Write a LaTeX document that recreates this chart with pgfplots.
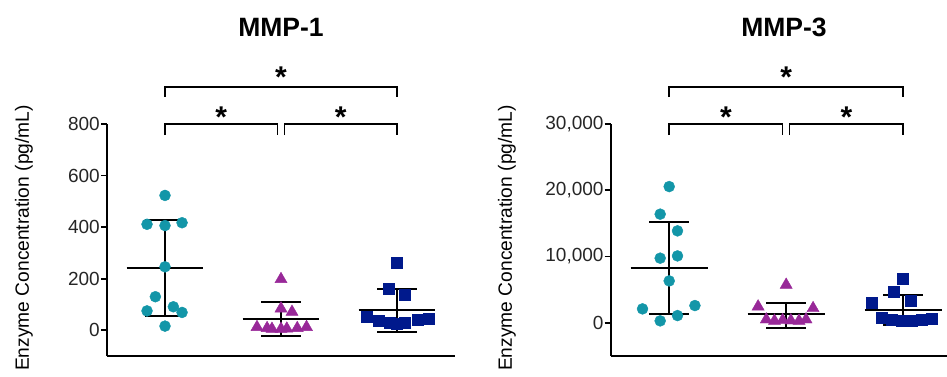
\documentclass[border=0pt]{standalone}
\usepackage{fontspec}
\setmainfont{Liberation Sans}
\usepackage{pgfplots}
\pgfplotsset{compat=1.18}
\definecolor{cteal}{RGB}{19,150,168}
\definecolor{cpurp}{RGB}{152,40,152}
\definecolor{cnavy}{RGB}{0,25,140}
\tikzset{
 brk/.style={line width=1.6pt, black},
 star/.style={anchor=north, inner sep=0pt, font=\bfseries\fontsize{30}{32}\selectfont},
}
\pgfplotsset{
 enzstyle/.style={
  scale only axis, height=232pt,
  axis x line=bottom, axis y line=left,
  axis line style={-, line width=1.8pt, black},
  xtick=\empty,
  ytick style={line width=1.8pt, black},
  tick align=outside, major tick length=6pt,
  /pgf/number format/assume math mode=true,
  /pgf/number format/1000 sep={,},
  scaled y ticks=false,
  yticklabel style={font=\fontsize{19}{22}\selectfont, inner sep=1pt, text=black!85},
  clip=false,
  anchor=south west,
 },
 mline/.style={black, line width=2pt, no marks, forget plot},
 ptA/.style={only marks, mark=*, mark size=5.5pt, color=cteal, mark options={draw=cteal, fill=cteal}},
 ptB/.style={only marks, mark=triangle*, mark size=7pt, color=cpurp, mark options={draw=cpurp, fill=cpurp}},
 ptC/.style={only marks, mark=square*, mark size=5.5pt, color=cnavy, mark options={draw=cnavy, fill=cnavy}},
}
\begin{document}
\begin{tikzpicture}
\useasboundingbox (0,0) rectangle (947pt,376pt);
% ---------------- MMP-1 ----------------
\begin{axis}[enzstyle, at={(107pt,20pt)}, width=348pt,
  xmin=0.5, xmax=3.5, ymin=-100, ymax=800, ytick={0,200,400,600,800}]
\addplot[ptA] coordinates {(1.0,523) (0.845,411) (1.0,406) (1.147,417) (1.0,246) (0.917,130) (0.845,75) (1.072,91) (1.147,69) (1.0,16)};
\addplot[ptB] coordinates {(2.0,198) (2.0,84) (2.095,71) (1.793,12) (1.88,8) (1.922,5) (2.0,5) (2.05,6) (2.14,8) (2.22,12)};
\addplot[ptC] coordinates {(3.0,263) (2.93,162) (3.07,139) (2.74,54) (2.84,36) (2.94,28) (3.0,25) (3.07,28) (3.18,39) (3.27,45)};
% mean and SD
\addplot[mline] coordinates {(0.67,240) (1.33,240)};
\addplot[mline] coordinates {(1,54) (1,428)};
\addplot[mline] coordinates {(0.83,428) (1.17,428)};
\addplot[mline] coordinates {(0.83,54) (1.17,54)};
\addplot[mline] coordinates {(1.67,43) (2.33,43)};
\addplot[mline] coordinates {(2,-21) (2,108)};
\addplot[mline] coordinates {(1.83,108) (2.17,108)};
\addplot[mline] coordinates {(1.83,-21) (2.17,-21)};
\addplot[mline] coordinates {(2.67,78) (3.33,78)};
\addplot[mline] coordinates {(3,-6) (3,160)};
\addplot[mline] coordinates {(2.83,160) (3.17,160)};
\addplot[mline] coordinates {(2.83,-6) (3.17,-6)};
% brackets
\draw[brk] (axis cs:1,757) -- (axis cs:1,800) -- (axis cs:1.97,800) -- (axis cs:1.97,757);
\draw[brk] (axis cs:2.03,757) -- (axis cs:2.03,800) -- (axis cs:3,800) -- (axis cs:3,757);
\draw[brk] (axis cs:1,905) -- (axis cs:1,944) -- (axis cs:3,944) -- (axis cs:3,905);
\node[star] at (axis cs:1.485,866) {*};
\node[star] at (axis cs:2.515,866) {*};
\node[star] at (axis cs:2,1021) {*};
\end{axis}
% ---------------- MMP-3 ----------------
\begin{axis}[enzstyle, at={(610.7pt,20pt)}, width=336.3pt,
  xmin=0.5, xmax=3.375, ymin=-5000, ymax=30000, ytick={0,10000,20000,30000}]
\addplot[ptA] coordinates {(1.0,20560) (0.923,16400) (1.071,13880) (0.923,9760) (1.071,10100) (1.0,6330) (0.772,2110) (1.22,2610) (0.923,300) (1.071,1100)};
\addplot[ptB] coordinates {(2.0,5730) (1.76,2460) (2.23,2210) (1.83,500) (1.90,300) (1.97,400) (2.04,350) (2.11,300) (2.17,500)};
\addplot[ptC] coordinates {(3.0,6640) (2.915,4630) (3.066,3320) (2.73,2970) (2.815,800) (2.9,500) (2.985,400) (3.07,400) (3.157,500) (3.24,700)};
\addplot[mline] coordinates {(0.67,8250) (1.33,8250)};
\addplot[mline] coordinates {(1,1310) (1,15280)};
\addplot[mline] coordinates {(0.83,15280) (1.17,15280)};
\addplot[mline] coordinates {(0.83,1310) (1.17,1310)};
\addplot[mline] coordinates {(1.67,1360) (2.33,1360)};
\addplot[mline] coordinates {(2,-700) (2,3070)};
\addplot[mline] coordinates {(1.83,3070) (2.17,3070)};
\addplot[mline] coordinates {(1.83,-700) (2.17,-700)};
\addplot[mline] coordinates {(2.67,1960) (3.33,1960)};
\addplot[mline] coordinates {(3,-300) (3,4220)};
\addplot[mline] coordinates {(2.83,4220) (3.17,4220)};
\addplot[mline] coordinates {(2.83,-300) (3.17,-300)};
\draw[brk] (axis cs:1,28340) -- (axis cs:1,30000) -- (axis cs:1.97,30000) -- (axis cs:1.97,28340);
\draw[brk] (axis cs:2.03,28340) -- (axis cs:2.03,30000) -- (axis cs:3,30000) -- (axis cs:3,28340);
\draw[brk] (axis cs:1,34070) -- (axis cs:1,35580) -- (axis cs:3,35580) -- (axis cs:3,34070);
\node[star] at (axis cs:1.485,32560) {*};
\node[star] at (axis cs:2.515,32560) {*};
\node[star] at (axis cs:2,38600) {*};
\end{axis}
% labels and titles
\node[rotate=90, font=\fontsize{19.2}{23}\selectfont] at (24pt,138pt) {Enzyme Concentration (pg/mL)};
\node[rotate=90, font=\fontsize{19.2}{23}\selectfont] at (507pt,138pt) {Enzyme Concentration (pg/mL)};
\node[font=\bfseries\fontsize{26.5}{30}\selectfont] at (281pt,349pt) {MMP-1};
\node[font=\bfseries\fontsize{26.5}{30}\selectfont] at (784pt,349pt) {MMP-3};
\end{tikzpicture}
\end{document}
